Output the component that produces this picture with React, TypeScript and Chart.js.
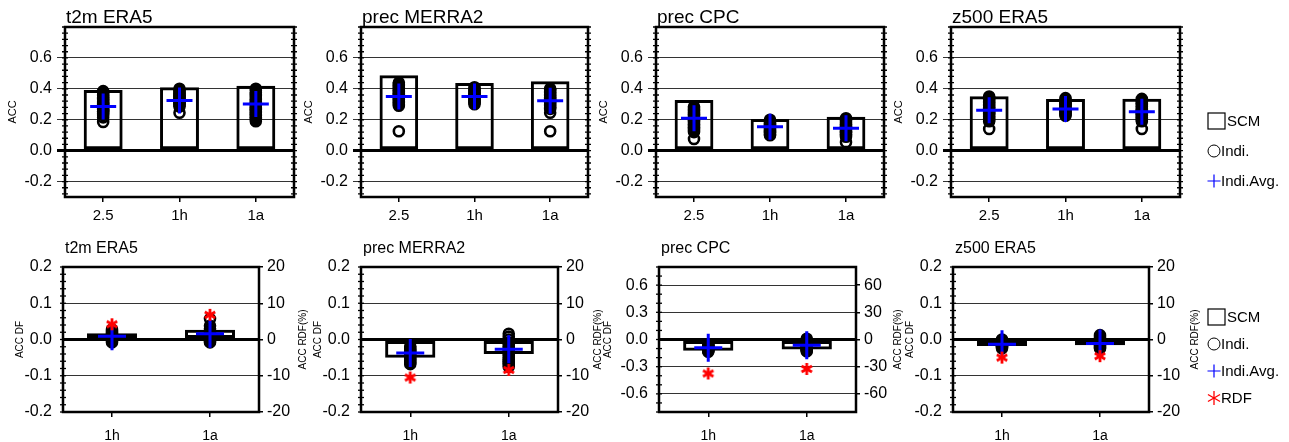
import React, { useEffect, useRef } from 'react';
import { Chart, registerables } from 'chart.js';

Chart.register(...registerables);

const FONT = '"Liberation Sans", Arial, Helvetica, sans-serif';

// ---------------- data ----------------
const TOP_CATS = ['2.5', '1h', '1a'];
const DIFF_CATS = ['1h', '1a'];
const PANEL_TITLES = ['t2m ERA5', 'prec MERRA2', 'prec CPC', 'z500 ERA5'];
const ACC_TICKS = [-0.2, 0, 0.2, 0.4, 0.6];
const DF_TICKS = [-0.2, -0.1, 0, 0.1, 0.2];
const RDF_TICKS = [-20, -10, 0, 10, 20];
const DF_TICKS_CPC = [-0.6, -0.3, 0, 0.3, 0.6];
const RDF_TICKS_CPC = [-60, -30, 0, 30, 60];
const LEGEND_TOP = ['SCM', 'Indi.', 'Indi.Avg.'];
const LEGEND_BOTTOM = ['SCM', 'Indi.', 'Indi.Avg.', 'RDF'];

// ACC of the SCM (bars), top row
const SCM_T2M = [0.393, 0.41, 0.42];
const SCM_MERRA2 = [0.487, 0.438, 0.449];
const SCM_CPC = [0.328, 0.205, 0.22];
const SCM_Z500 = [0.352, 0.334, 0.335];

// ACC average of individual members (blue crosses), top row
const AVG_T2M = [0.285, 0.324, 0.302];
const AVG_MERRA2 = [0.35, 0.35, 0.322];
const AVG_CPC = [0.21, 0.155, 0.145];
const AVG_Z500 = [0.262, 0.27, 0.252];

// ACC of individual members (circles), top row
const INDI_T2M = [
  [0.185, 0.215, 0.23, 0.24, 0.25, 0.255, 0.265, 0.27, 0.28, 0.29, 0.295, 0.305, 0.31, 0.32, 0.33, 0.335, 0.345, 0.355, 0.365, 0.375, 0.385],
  [0.245, 0.285, 0.295, 0.3, 0.31, 0.315, 0.325, 0.33, 0.34, 0.345, 0.355, 0.36, 0.37, 0.38, 0.39, 0.4],
  [0.19, 0.205, 0.215, 0.225, 0.235, 0.245, 0.255, 0.265, 0.27, 0.28, 0.29, 0.3, 0.31, 0.32, 0.33, 0.34, 0.355, 0.365, 0.375, 0.39, 0.4],
];
const INDI_MERRA2 = [
  [0.125, 0.29, 0.3, 0.31, 0.32, 0.33, 0.34, 0.345, 0.355, 0.36, 0.37, 0.38, 0.39, 0.4, 0.41, 0.42, 0.43, 0.44],
  [0.3, 0.31, 0.315, 0.325, 0.33, 0.34, 0.345, 0.355, 0.36, 0.37, 0.38, 0.39, 0.4, 0.41],
  [0.125, 0.245, 0.27, 0.28, 0.29, 0.3, 0.31, 0.32, 0.33, 0.335, 0.345, 0.355, 0.365, 0.375, 0.385, 0.395, 0.4],
];
const INDI_CPC = [
  [0.075, 0.12, 0.13, 0.14, 0.15, 0.16, 0.17, 0.18, 0.19, 0.195, 0.205, 0.215, 0.225, 0.235, 0.245, 0.255, 0.265, 0.275, 0.285],
  [0.1, 0.105, 0.115, 0.12, 0.13, 0.135, 0.145, 0.15, 0.16, 0.165, 0.175, 0.18, 0.19, 0.2],
  [0.055, 0.09, 0.1, 0.105, 0.115, 0.12, 0.13, 0.14, 0.145, 0.155, 0.16, 0.17, 0.18, 0.19, 0.2, 0.21],
];
const INDI_Z500 = [
  [0.14, 0.19, 0.2, 0.21, 0.22, 0.23, 0.24, 0.245, 0.255, 0.26, 0.27, 0.28, 0.29, 0.3, 0.31, 0.32, 0.33, 0.34, 0.35],
  [0.225, 0.235, 0.24, 0.25, 0.255, 0.265, 0.27, 0.28, 0.29, 0.295, 0.305, 0.31, 0.32, 0.33, 0.34],
  [0.14, 0.19, 0.2, 0.21, 0.215, 0.225, 0.235, 0.24, 0.25, 0.26, 0.265, 0.275, 0.285, 0.295, 0.305, 0.315, 0.325, 0.335],
];

// ACC differences (bottom row): SCM bars, member average, RDF (%)
const DF_T2M = [0.017, 0.027];
const DF_MERRA2 = [-0.05, -0.04];
const DF_CPC = [-0.125, -0.11];
const DF_Z500 = [-0.018, -0.016];

const DF_AVG_T2M = [0.009, 0.016];
const DF_AVG_MERRA2 = [-0.037, -0.027];
const DF_AVG_CPC = [-0.092, -0.063];
const DF_AVG_Z500 = [-0.013, -0.011];

const RDF_T2M = [4.2, 6.8];
const RDF_MERRA2 = [-10.5, -8.4];
const RDF_CPC = [-37.5, -32.5];
const RDF_Z500 = [-5.0, -4.6];

const DF_INDI_T2M = [
  [-0.008, -0.004, -0.001, 0.002, 0.004, 0.006, 0.008, 0.01, 0.012, 0.014, 0.017, 0.02, 0.024, 0.028],
  [-0.008, -0.005, -0.002, 0.001, 0.004, 0.007, 0.01, 0.013, 0.016, 0.02, 0.024, 0.03, 0.038, 0.057],
];
const DF_INDI_MERRA2 = [
  [-0.068, -0.064, -0.06, -0.056, -0.052, -0.048, -0.044, -0.04, -0.036, -0.032, -0.028, -0.024, -0.019],
  [-0.075, -0.07, -0.065, -0.06, -0.055, -0.05, -0.045, -0.04, -0.035, -0.03, -0.025, -0.02, -0.014, -0.008, 0.0, 0.008, 0.016],
];
const DF_INDI_CPC = [
  [-0.135, -0.128, -0.12, -0.112, -0.105, -0.098, -0.09, -0.083, -0.075, -0.068, -0.06, -0.053],
  [-0.13, -0.122, -0.113, -0.105, -0.097, -0.088, -0.08, -0.07, -0.06, -0.05, -0.04, -0.03, -0.02, -0.008, 0.008],
];
const DF_INDI_Z500 = [
  [-0.024, -0.021, -0.019, -0.017, -0.015, -0.013, -0.011, -0.009, -0.007, -0.005, -0.002, 0.0],
  [-0.025, -0.022, -0.019, -0.016, -0.013, -0.011, -0.008, -0.005, -0.002, 0.002, 0.006, 0.012],
];

// ---------------- layout ----------------
type Area = { l: number; r: number; t: number; b: number };
interface PanelDef {
  key: string;
  title: string;
  cats: string[];
  scm: number[];
  avg: number[];
  indi: number[][];
  rdf?: number[];
  yMin: number;
  yMax: number;
  yTicks: number[];
  y2Min?: number;
  y2Max?: number;
  y2Ticks?: number[];
  yTitle: string;
  y2Title?: string;
  y2TitleDx: number;
  minorStep: number;
  minorRight: boolean;
  area: Area;
  padL: number;
  padR: number;
  padT: number;
  padB: number;
  extraR: number;
  titleSize: number;
  titleGap: number;
  titleDx: number;
  yTitleSize: number;
  yTickLen: number;
  yTickPad: number;
  yFont: number;
  xFont: number;
  xPad: number;
  crossR: number;
  legend?: string[];
  legendY?: number[];
}

const TOP_ROW = { t: 27, b: 197 };
const BOT_ROW = { t: 267, b: 412 };

function topPanel(i: number, l: number, r: number, scm: number[], avg: number[], indi: number[][], legend?: boolean): PanelDef {
  return {
    key: 'top' + i,
    title: PANEL_TITLES[i],
    cats: TOP_CATS,
    scm, avg, indi,
    yMin: -0.3, yMax: 0.8, yTicks: ACC_TICKS,
    yTitle: 'ACC', y2TitleDx: 0,
    minorStep: 0.04, minorRight: true,
    area: { l, r, t: TOP_ROW.t, b: TOP_ROW.b },
    padL: 59, padR: 15, padT: 27, padB: 33,
    extraR: legend ? 1289 - r - 15 : 0,
    titleSize: 19, titleGap: 4, titleDx: 1,
    yTitleSize: 11, yTickLen: 8, yTickPad: 5, yFont: 16,
    xFont: 15, xPad: 5, crossR: 13,
    legend: legend ? LEGEND_TOP : undefined,
    legendY: [121, 151, 181],
  };
}

function bottomPanel(i: number, l: number, r: number, scm: number[], avg: number[], indi: number[][], rdf: number[], cpc: boolean, rdfTitleDx: number, legend?: boolean): PanelDef {
  return {
    key: 'bot' + i,
    title: PANEL_TITLES[i],
    cats: DIFF_CATS,
    scm, avg, indi, rdf,
    yMin: cpc ? -0.8 : -0.2, yMax: cpc ? 0.8 : 0.2, yTicks: cpc ? DF_TICKS_CPC : DF_TICKS,
    y2Min: cpc ? -80 : -20, y2Max: cpc ? 80 : 20, y2Ticks: cpc ? RDF_TICKS_CPC : RDF_TICKS,
    yTitle: 'ACC DF', y2Title: 'ACC RDF(%)', y2TitleDx: rdfTitleDx,
    minorStep: cpc ? 0.1 : 0.02, minorRight: false,
    area: { l, r, t: BOT_ROW.t, b: BOT_ROW.b },
    padL: cpc ? 57 : 49, padR: 50, padT: 32, padB: 30,
    extraR: legend ? 1289 - r - 50 : 0,
    titleSize: 16, titleGap: 14, titleDx: 2,
    yTitleSize: 10, yTickLen: 0, yTickPad: 11, yFont: 16,
    xFont: 14, xPad: 11, crossR: 14,
    legend: legend ? LEGEND_BOTTOM : undefined,
    legendY: [317, 344, 371, 398],
  };
}

const PANELS: PanelDef[] = [
  topPanel(0, 65, 295, SCM_T2M, AVG_T2M, INDI_T2M),
  topPanel(1, 361, 589, SCM_MERRA2, AVG_MERRA2, INDI_MERRA2),
  topPanel(2, 656, 885, SCM_CPC, AVG_CPC, INDI_CPC),
  topPanel(3, 951, 1180, SCM_Z500, AVG_Z500, INDI_Z500, true),
  bottomPanel(0, 63, 259, DF_T2M, DF_AVG_T2M, DF_INDI_T2M, RDF_T2M, false, 44),
  bottomPanel(1, 361, 558, DF_MERRA2, DF_AVG_MERRA2, DF_INDI_MERRA2, RDF_MERRA2, false, 40),
  bottomPanel(2, 659, 856, DF_CPC, DF_AVG_CPC, DF_INDI_CPC, RDF_CPC, true, 42),
  bottomPanel(3, 953, 1149, DF_Z500, DF_AVG_Z500, DF_INDI_Z500, RDF_Z500, false, 46, true),
];

function makeAsterisk(size: number, color: string, lw: number): HTMLCanvasElement {
  const c = document.createElement('canvas');
  c.width = size;
  c.height = size;
  const g = c.getContext('2d')!;
  g.strokeStyle = color;
  g.lineWidth = lw;
  const cx = size / 2, cy = size / 2, r = size / 2 - 1;
  [90, 30, -30].forEach((a) => {
    const rad = (a * Math.PI) / 180;
    g.beginPath();
    g.moveTo(cx - r * Math.cos(rad), cy - r * Math.sin(rad));
    g.lineTo(cx + r * Math.cos(rad), cy + r * Math.sin(rad));
    g.stroke();
  });
  return c;
}

function drawAsteriskPath(ctx: CanvasRenderingContext2D, x: number, y: number, r: number) {
  [90, 30, -30].forEach((a) => {
    const rad = (a * Math.PI) / 180;
    ctx.beginPath();
    ctx.moveTo(x - r * Math.cos(rad), y - r * Math.sin(rad));
    ctx.lineTo(x + r * Math.cos(rad), y + r * Math.sin(rad));
    ctx.stroke();
  });
}

function buildConfig(def: PanelDef, cLeft: number, cTop: number): any {
  const star = makeAsterisk(14, '#ff0000', 2.8);
  const datasets: any[] = [];
  if (def.rdf) {
    datasets.push({
      type: 'line', label: 'RDF', data: def.rdf, yAxisID: 'y2', showLine: false,
      pointStyle: star, pointRadius: 7, order: 0,
    });
  }
  datasets.push({
    type: 'line', label: 'Indi.Avg.', data: def.avg, yAxisID: 'y', showLine: false,
    pointStyle: 'cross', pointRadius: def.crossR, pointBorderWidth: 3,
    pointBorderColor: '#0000ff', pointBackgroundColor: '#0000ff', order: 1,
  });
  datasets.push({
    type: 'line', label: 'Indi.', yAxisID: 'y', showLine: false,
    data: def.indi.flatMap((vals, i) => vals.map((v) => ({ x: def.cats[i], y: v }))),
    pointStyle: 'circle', pointRadius: 5, pointBorderWidth: 2.6,
    pointBorderColor: '#000', pointBackgroundColor: 'rgba(0,0,0,0)', order: 2,
  });
  datasets.push({
    type: 'bar', label: 'SCM', data: def.scm, yAxisID: 'y',
    backgroundColor: 'rgba(255,255,255,0)', borderColor: '#000', borderWidth: 3,
    borderSkipped: false, barPercentage: 0.51, categoryPercentage: 1, order: 3,
  });

  const scales: any = {
    x: {
      type: 'category', labels: def.cats, offset: true,
      grid: { display: true, drawOnChartArea: false, drawTicks: true, tickLength: 5, color: '#000', lineWidth: 1.5, offset: false },
      border: { display: false },
      ticks: { font: { size: def.xFont }, padding: def.xPad, color: '#000', maxRotation: 0, autoSkip: false },
      afterFit: (s: any) => { s.height = def.padB; },
    },
    y: {
      type: 'linear', position: 'left', min: def.yMin, max: def.yMax,
      afterBuildTicks: (s: any) => { s.ticks = def.yTicks.map((v) => ({ value: v })); },
      ticks: { callback: (v: any) => Number(v).toFixed(1), font: { size: def.yFont }, padding: def.yTickPad, color: '#000' },
      grid: {
        drawTicks: def.yTickLen > 0, tickLength: def.yTickLen,
        color: (c: any) => (c.tick && c.tick.value === 0 ? '#000' : '#333'),
        lineWidth: (c: any) => (c.tick && c.tick.value === 0 ? 3 : 1),
      },
      border: { display: false },
      title: { display: true, text: def.yTitle, font: { size: def.yTitleSize }, padding: 0, color: '#000' },
      afterFit: (s: any) => { s.width = def.padL; },
    },
  };
  if (def.y2Ticks) {
    scales.y2 = {
      type: 'linear', position: 'right', min: def.y2Min, max: def.y2Max,
      afterBuildTicks: (s: any) => { s.ticks = def.y2Ticks!.map((v) => ({ value: v })); },
      ticks: { callback: (v: any) => String(v), font: { size: def.yFont }, padding: 4, color: '#000' },
      grid: { drawOnChartArea: false, drawTicks: true, tickLength: 4, color: '#000', lineWidth: 1.5 },
      border: { display: false },
      title: { display: false },
      afterFit: (s: any) => { s.width = def.padR; },
    };
  }

  const deco = {
    id: 'deco',
    afterDraw(chart: any) {
      const { ctx, chartArea: a } = chart;
      const ys = chart.scales.y;
      ctx.save();
      // minor ticks
      ctx.strokeStyle = '#000';
      ctx.lineWidth = 1.3;
      const n0 = Math.ceil(def.yMin / def.minorStep - 1e-6);
      const n1 = Math.floor(def.yMax / def.minorStep + 1e-6);
      for (let k = n0; k <= n1; k++) {
        const py = ys.getPixelForValue(k * def.minorStep);
        ctx.beginPath();
        ctx.moveTo(a.left - 3, py);
        ctx.lineTo(a.left + 3, py);
        if (def.minorRight) {
          ctx.moveTo(a.right - 3, py);
          ctx.lineTo(a.right + 3, py);
        }
        ctx.stroke();
      }
      // frame
      ctx.lineWidth = 2.5;
      ctx.strokeRect(a.left, a.top, a.right - a.left, a.bottom - a.top);
      // panel title
      ctx.fillStyle = '#000';
      ctx.font = `${def.titleSize}px ${FONT}`;
      ctx.textAlign = 'left';
      ctx.textBaseline = 'alphabetic';
      ctx.fillText(def.title, a.left + def.titleDx, a.top - def.titleGap);
      // right axis title, reading bottom-to-top
      if (def.y2Title) {
        ctx.save();
        ctx.translate(a.right + def.y2TitleDx, (a.top + a.bottom) / 2);
        ctx.rotate(-Math.PI / 2);
        ctx.font = `${def.yTitleSize}px ${FONT}`;
        ctx.textAlign = 'center';
        ctx.textBaseline = 'middle';
        ctx.fillText(def.y2Title, 0, 0);
        ctx.restore();
      }
      // legend
      if (def.legend && def.legendY) {
        const x0 = 1208 - cLeft;
        ctx.font = `15px ${FONT}`;
        ctx.textBaseline = 'middle';
        ctx.textAlign = 'left';
        def.legend.forEach((name, i) => {
          const yc = def.legendY![i] - cTop;
          let tx = x0 + 13;
          if (name === 'SCM') {
            ctx.strokeStyle = '#000';
            ctx.lineWidth = 1.2;
            ctx.strokeRect(x0, yc - 8, 17, 16);
            tx = x0 + 19;
          } else if (name === 'Indi.') {
            ctx.strokeStyle = '#000';
            ctx.lineWidth = 1;
            ctx.beginPath();
            ctx.arc(x0 + 6, yc, 6, 0, Math.PI * 2);
            ctx.stroke();
          } else if (name === 'Indi.Avg.') {
            ctx.strokeStyle = '#0000ff';
            ctx.lineWidth = 1.2;
            ctx.beginPath();
            ctx.moveTo(x0 - 0.5, yc);
            ctx.lineTo(x0 + 12.5, yc);
            ctx.moveTo(x0 + 6, yc - 6.5);
            ctx.lineTo(x0 + 6, yc + 6.5);
            ctx.stroke();
          } else if (name === 'RDF') {
            ctx.strokeStyle = '#ff0000';
            ctx.lineWidth = 1.3;
            drawAsteriskPath(ctx, x0 + 6, yc, 7);
          }
          ctx.fillStyle = '#000';
          ctx.fillText(name, tx, yc + 1);
        });
      }
      ctx.restore();
    },
  };

  return {
    data: { labels: def.cats, datasets },
    options: {
      animation: false,
      responsive: true,
      maintainAspectRatio: false,
      events: [],
      layout: { padding: { left: 0, top: def.padT, bottom: 0, right: (def.y2Ticks ? 0 : def.padR) + def.extraR } },
      plugins: { legend: { display: false }, tooltip: { enabled: false }, title: { display: false } },
      scales,
    },
    plugins: [deco],
  };
}

function Panel({ def }: { def: PanelDef }) {
  const ref = useRef<HTMLCanvasElement>(null);
  const cLeft = def.area.l - def.padL;
  const cTop = def.area.t - def.padT;
  const w = def.padL + (def.area.r - def.area.l) + def.padR + def.extraR;
  const h = def.padT + (def.area.b - def.area.t) + def.padB;
  useEffect(() => {
    const chart = new Chart(ref.current!, buildConfig(def, cLeft, cTop));
    return () => chart.destroy();
  }, []);
  return (
    <div style={{ position: 'absolute', left: cLeft, top: cTop, width: w, height: h }}>
      <canvas ref={ref} />
    </div>
  );
}

export default function App() {
  Chart.defaults.font.family = FONT;
  Chart.defaults.color = '#000';
  return (
    <div style={{ position: 'absolute', left: 0, top: 0, width: 1289, height: 442, background: '#fff', overflow: 'hidden' }}>
      {PANELS.map((p) => (
        <Panel key={p.key} def={p} />
      ))}
    </div>
  );
}
